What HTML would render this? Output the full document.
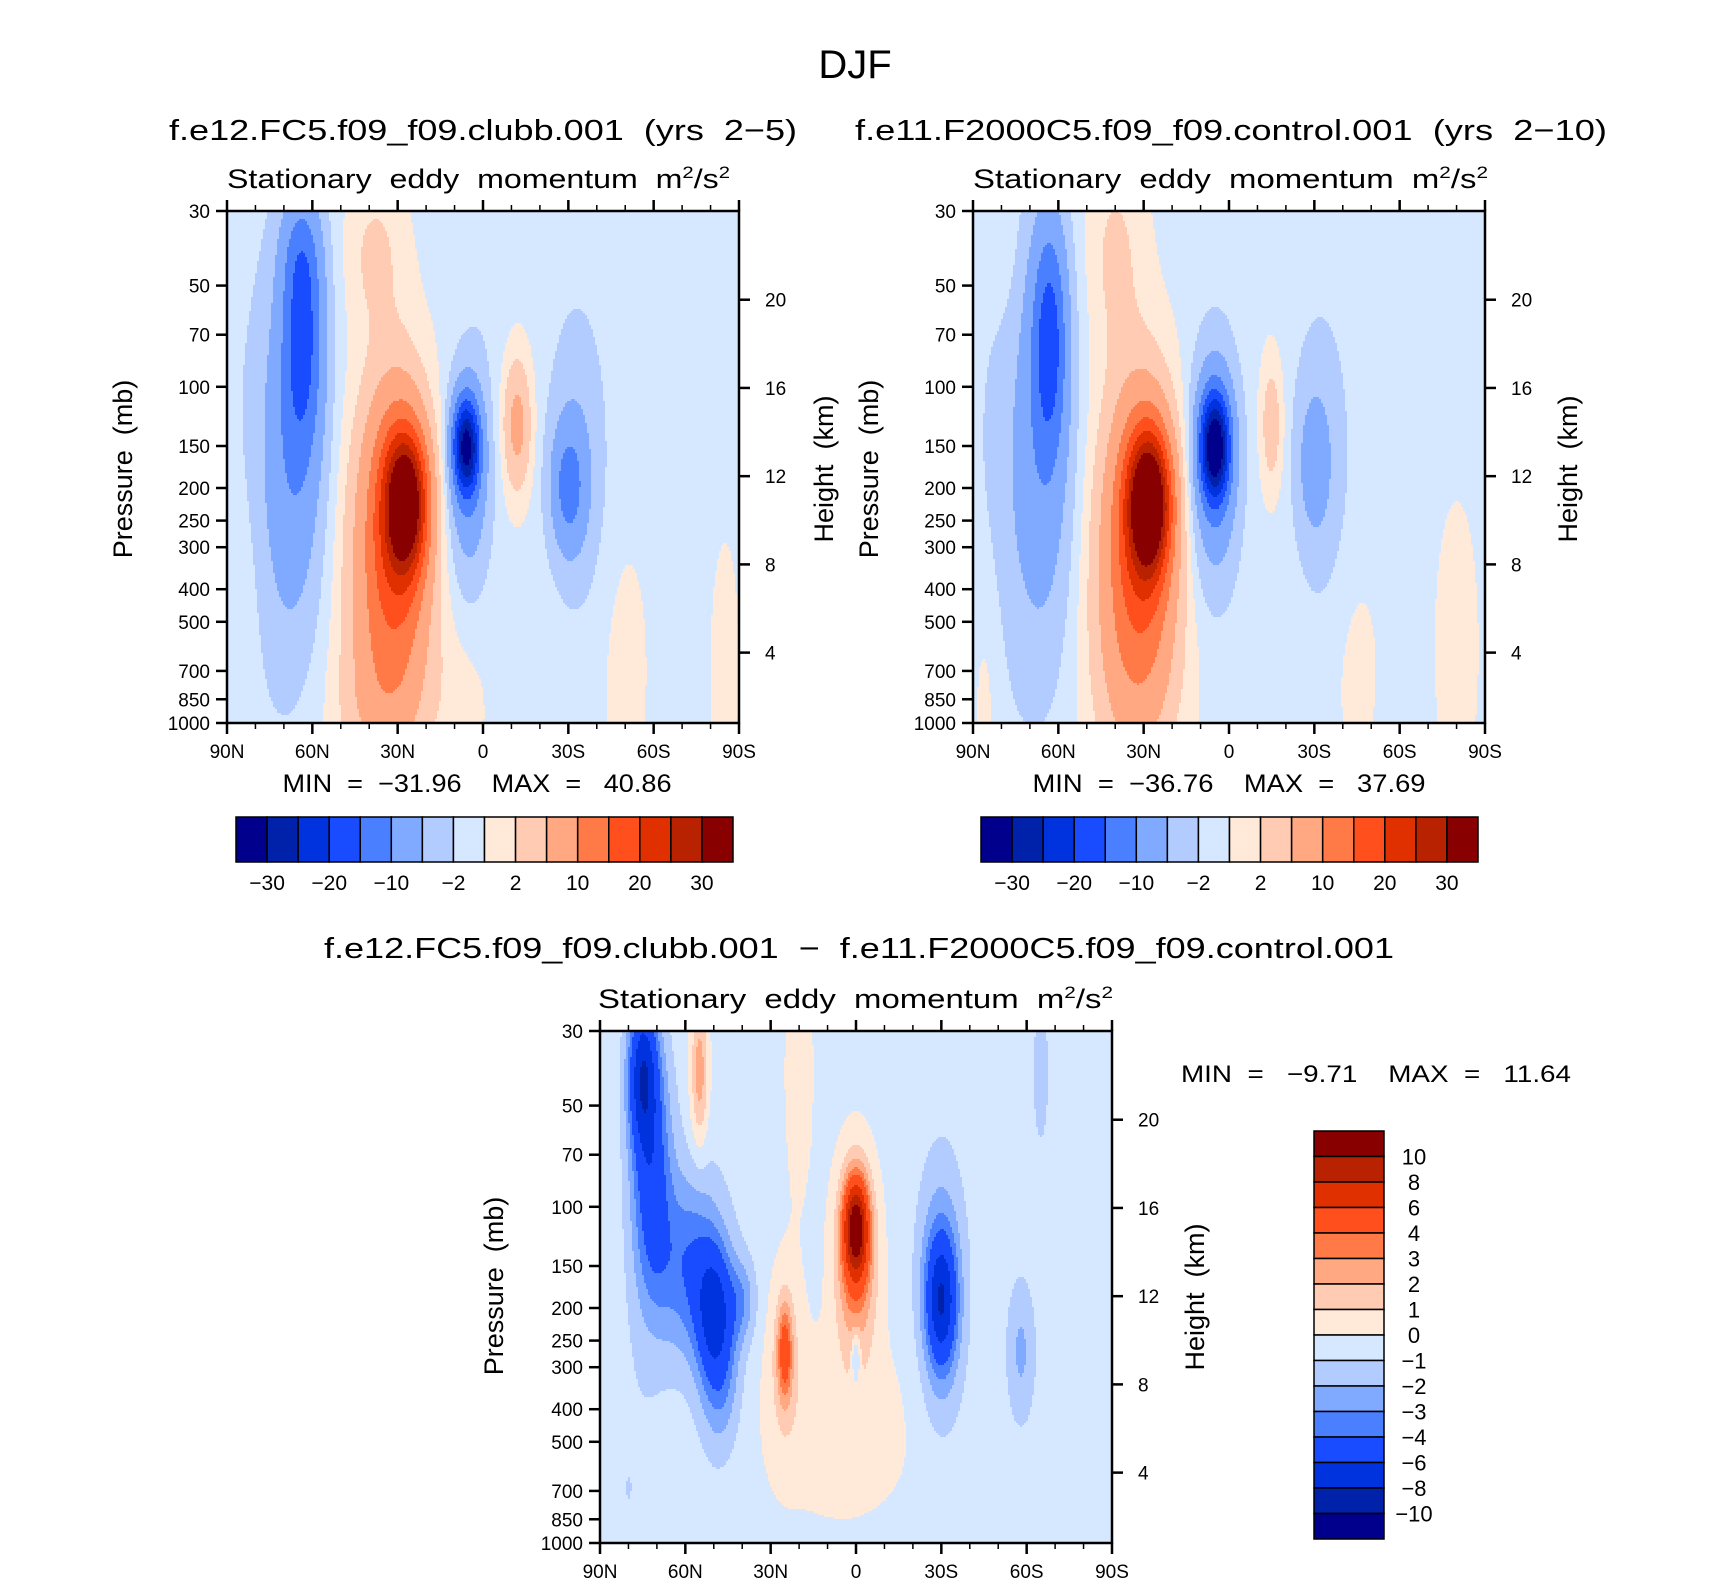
<!DOCTYPE html>
<html><head><meta charset="utf-8"><style>
html,body{margin:0;padding:0;background:#fff;}
svg{display:block;font-family:"Liberation Sans",sans-serif;}
text{white-space:pre;}
</style></head><body>
<svg id="root" width="1710" height="1591" viewBox="0 0 1710 1591" xmlns="http://www.w3.org/2000/svg" xml:space="preserve">
<text x="855" y="78" font-size="40" text-anchor="middle">DJF</text>
<g id="p1"></g>
<g id="p2"></g>
<g id="p3"></g>
</svg>
<script>
// ---- data ----
const latTicks = [90, 60, 30, 0, -30, -60, -90];
const latLabels = ["90N", "60N", "30N", "0", "30S", "60S", "90S"];
const presTicks = [30, 50, 70, 100, 150, 200, 250, 300, 400, 500, 700, 850, 1000];
const heightTicks = [4, 8, 12, 16, 20];
const levelsAbs = [-30, -25, -20, -15, -10, -5, -2, 0, 2, 5, 10, 15, 20, 25, 30];
const labelsAbs = ["−30", "", "−20", "", "−10", "", "−2", "", "2", "", "10", "", "20", "", "30"];
const levelsDiff = [-10, -8, -6, -4, -3, -2, -1, 0, 1, 2, 3, 4, 6, 8, 10];
const labelsDiff = ["−10", "−8", "−6", "−4", "−3", "−2", "−1", "0", "1", "2", "3", "4", "6", "8", "10"];
const palette = ["#00008c", "#0022aa", "#0033dd", "#1a4cff", "#4a7fff", "#80aaff", "#b3ccff", "#d6e8ff", "#ffe9d9", "#ffcbb3", "#ffa882", "#ff7a46", "#ff4f1c", "#e03000", "#b82200", "#880000"];

// blob fields: lat centre, pressure centre (mb), amplitude, lat width (deg), log-p width (fraction)
const p1Lat = [63, 66, 64, 27, 30, 35, 30, 6, 5, -12, -30, -33, 38, 85, -50, 40, -85, 75, 8, -2];
const p1Pres = [70, 150, 40, 220, 240, 400, 700, 150, 180, 130, 200, 160, 40, 400, 700, 900, 700, 200, 900, 40];
const p1Amp = [-12, -7, -5, 28, 14, 7, 3, -25, -9, 7, -9, -4, 3, 1.5, 1.4, 1.5, 1.2, -2.5, 1.2, -1];
const p1WLat = [7, 10, 7, 7, 11, 14, 14, 4.5, 7, 5, 6, 10, 10, 8, 8, 15, 6, 14, 10, 6];
const p1WP = [0.22, 0.35, 0.12, 0.13, 0.25, 0.35, 0.2, 0.09, 0.2, 0.13, 0.12, 0.28, 0.15, 0.25, 0.25, 0.12, 0.3, 0.45, 0.15, 0.2];
const p1Base = -0.6;

const p2Lat = [63, 65, 28, 30, 35, 30, 5, 5, -15, -30, -32, 40, -80, -45, 85, 78, 80];
const p2Pres = [70, 150, 220, 250, 400, 700, 150, 170, 130, 170, 160, 40, 600, 700, 700, 200, 40];
const p2Amp = [-13, -7, 30, 14, 7, 3, -28, -10, 4.5, -5, -3.5, 3, 1.5, 1.2, 1.6, -2.5, 1.2];
const p2WLat = [6, 10, 7, 11, 14, 14, 5, 8, 4, 5, 10, 10, 8, 8, 6, 12, 6];
const p2WP = [0.22, 0.4, 0.13, 0.25, 0.35, 0.2, 0.1, 0.22, 0.13, 0.12, 0.28, 0.2, 0.3, 0.2, 0.3, 0.45, 0.15];
const p2Base = -0.6;

const p3Lat = [75, 72, 58, 50, 48, 40, 55, 0, 0, -30, -30, 25, 25, 0, -58, -65, 5, 20, 80];
const p3Pres = [40, 80, 150, 200, 300, 190, 40, 115, 140, 190, 180, 270, 280, 280, 270, 40, 450, 40, 700];
const p3Amp = [-6, -4.5, -3.5, -4, -3, -2, 3, 9, 4.5, -5, -3, 4, 1.5, -2.5, -1.8, -1.2, 0.9, 0.8, -0.6];
const p3WLat = [5, 7, 12, 6, 7, 5, 3, 4, 7, 5, 8, 2.5, 6, 1.5, 5, 3, 28, 6, 12];
const p3WP = [0.14, 0.25, 0.18, 0.12, 0.16, 0.08, 0.14, 0.09, 0.18, 0.12, 0.24, 0.09, 0.18, 0.05, 0.14, 0.15, 0.2, 0.3, 0.3];
const p3Base = -0.4;

// ---- helpers ----
const NS = "http://www.w3.org/2000/svg";
const LN = Math.log(1000 / 30);
function mk(tag, attrs, parent) {
  const e = document.createElementNS(NS, tag);
  for (const k in attrs) e.setAttribute(k, attrs[k]);
  parent.appendChild(e);
  return e;
}
function fracP(p) { return Math.log(p / 30) / LN; }

function field(lat, f, L, P, A, WL, WP, base) {
  let v = base;
  for (let i = 0; i < L.length; i++) {
    const dl = (lat - L[i]) / WL[i];
    const df = (f - fracP(P[i])) / WP[i];
    v += A[i] * Math.exp(-dl * dl - df * df);
  }
  return v;
}
function levelIndex(v, levels) {
  let k = 0;
  while (k < levels.length && v >= levels[k]) k++;
  return k;
}

function drawPanel(g, x0, y0, L, P, A, WL, WP, base, levels) {
  const W = 512, H = 512, step = 2;
  const xs = lat => x0 + (90 - lat) / 180 * W;
  const ys = p => y0 + fracP(p) * H;
  const cells = mk("g", { "shape-rendering": "crispEdges" }, g);
  
  
  for (let j = 0; j < H; j += step) {
    const f = (j + step / 2) / H;
    let runStart = 0, runK = -1;
    for (let i = 0; i <= W; i += step) {
      let k = -2;
      if (i < W) {
        const lat = 90 - (i + step / 2) / W * 180;
        k = levelIndex(field(lat, f, L, P, A, WL, WP, base), levels);
      }
      if (k !== runK) {
        if (runK >= 0) {
          const r = mk("rect", { x: x0 + runStart, y: y0 + j, width: i - runStart, height: step, fill: palette[runK] }, cells);
          
          
        }
        runStart = i; runK = k;
      }
    }
  }
  const frame = mk("rect", { x: x0, y: y0, width: W, height: H, fill: "none", stroke: "#000", "stroke-width": 2.5 }, g);
  
  
  for (let lat = 90; lat >= -90; lat -= 10) {
    const x = xs(lat), major = lat % 30 === 0, len = major ? 11 : 6;
    mk("line", { x1: x, x2: x, y1: y0, y2: y0 - len, stroke: "#000", "stroke-width": major ? 2.5 : 1.5 }, g);
    mk("line", { x1: x, x2: x, y1: y0 + H, y2: y0 + H + len, stroke: "#000", "stroke-width": major ? 2.5 : 1.5 }, g);
  }
  latTicks.forEach((lat, i) => {
    const t = mk("text", { x: xs(lat), y: y0 + H + 35, "font-size": 19, "text-anchor": "middle" }, g);
    t.textContent = latLabels[i];
    
    
  });
  presTicks.forEach(p => {
    const y = ys(p);
    mk("line", { x1: x0 - 11, x2: x0, y1: y, y2: y, stroke: "#000", "stroke-width": 2.5 }, g);
    const t = mk("text", { x: x0 - 17, y: y + 7, "font-size": 19, "text-anchor": "end" }, g);
    t.textContent = p;
    
    
  });
  heightTicks.forEach(z => {
    const y = ys(1130 * Math.exp(-z / 6.62));
    mk("line", { x1: x0 + W, x2: x0 + W + 11, y1: y, y2: y, stroke: "#000", "stroke-width": 2.5 }, g);
    const t = mk("text", { x: x0 + W + 26, y: y + 7, "font-size": 19 }, g);
    t.textContent = z;
    
    
  });
}

function txt(g, x, y, s, size, name, anchor, len, rot) {
  const a = { x: x, y: y, "font-size": size, "text-anchor": anchor || "middle" };
  if (len) { a.textLength = len; a.lengthAdjust = "spacingAndGlyphs"; }
  if (rot) a.transform = "rotate(-90 " + x + " " + y + ")";
  const t = mk("text", a, g);
  t.innerHTML = s;
  
  
  return t;
}

function hColorbar(g, x0, y0, w, h, labels) {
  const n = palette.length, bw = w / n;
  for (let i = 0; i < n; i++) {
    const r = mk("rect", { x: x0 + i * bw, y: y0, width: bw, height: h, fill: palette[i], stroke: "#000", "stroke-width": 1.5 }, g);
    
    
  }
  labels.forEach((s, i) => {
    if (!s) return;
    txt(g, x0 + (i + 1) * bw, y0 + h + 28, s, 21, "colorbar-label");
  });
}

const g1 = document.getElementById("p1"), g2 = document.getElementById("p2"), g3 = document.getElementById("p3");
const SUB = 'Stationary  eddy  momentum  m<tspan dy="-10" font-size="17">2</tspan><tspan dy="10">/s</tspan><tspan dy="-10" font-size="17">2</tspan>';

drawPanel(g1, 227, 211, p1Lat, p1Pres, p1Amp, p1WLat, p1WP, p1Base, levelsAbs);
txt(g1, 483, 140, "f.e12.FC5.f09_f09.clubb.001  (yrs  2−5)", 29, "panel-title", "middle", 628);
txt(g1, 227, 188, SUB, 27, "panel-subtitle", "start", 503);
txt(g1, 132, 469, "Pressure  (mb)", 27, "y-axis-title", "middle", null, true);
txt(g1, 833, 469, "Height  (km)", 27, "y2-axis-title", "middle", null, true);
txt(g1, 477, 792, "MIN  =  −31.96    MAX  =   40.86", 25, "min-max-label", "middle", 389);
hColorbar(g1, 236, 817, 497, 45, labelsAbs);

drawPanel(g2, 973, 211, p2Lat, p2Pres, p2Amp, p2WLat, p2WP, p2Base, levelsAbs);
txt(g2, 1231, 140, "f.e11.F2000C5.f09_f09.control.001  (yrs  2−10)", 29, "panel-title", "middle", 752);
txt(g2, 973, 188, SUB, 27, "panel-subtitle", "start", 515);
txt(g2, 878, 469, "Pressure  (mb)", 27, "y-axis-title", "middle", null, true);
txt(g2, 1577, 469, "Height  (km)", 27, "y2-axis-title", "middle", null, true);
txt(g2, 1229, 792, "MIN  =  −36.76    MAX  =   37.69", 25, "min-max-label", "middle", 393);
hColorbar(g2, 981, 817, 497, 45, labelsAbs);

drawPanel(g3, 600, 1031, p3Lat, p3Pres, p3Amp, p3WLat, p3WP, p3Base, levelsDiff);
txt(g3, 859, 958, "f.e12.FC5.f09_f09.clubb.001  −  f.e11.F2000C5.f09_f09.control.001", 29, "panel-title", "middle", 1070);
txt(g3, 598, 1008, SUB, 27, "panel-subtitle", "start", 515);
txt(g3, 503, 1286, "Pressure  (mb)", 27, "y-axis-title", "middle", null, true);
txt(g3, 1204, 1297, "Height  (km)", 27, "y2-axis-title", "middle", null, true);
txt(g3, 1376, 1082, "MIN  =   −9.71    MAX  =   11.64", 24, "min-max-label", "middle", 390);
(function () {
  const x0 = 1314, y0 = 1131, w = 70, bh = 25.5, n = palette.length;
  for (let i = 0; i < n; i++) {
    const r = mk("rect", { x: x0, y: y0 + i * bh, width: w, height: bh, fill: palette[n - 1 - i], stroke: "#000", "stroke-width": 1.5 }, g3);
    
    
  }
  for (let i = 0; i < labelsDiff.length; i++) {
    const s = labelsDiff[labelsDiff.length - 1 - i];
    txt(g3, 1414, y0 + (i + 1) * bh + 8, s, 22, "colorbar-label");
  }
})();
</script>
</body></html>
